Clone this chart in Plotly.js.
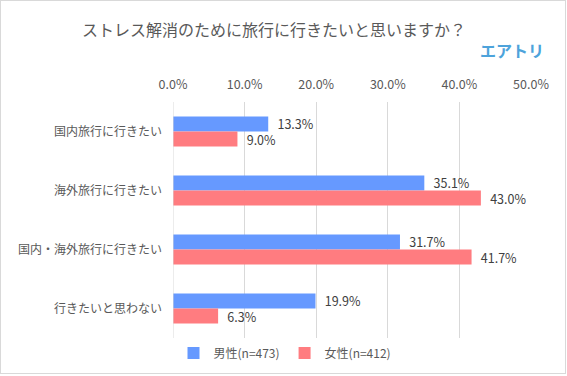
<!DOCTYPE html>
<html>
<head>
<meta charset="utf-8">
<script src="https://cdn.plot.ly/plotly-3.0.1.min.js"></script>
<style>
html,body{margin:0;padding:0;background:#fff;}
#wrap{position:relative;width:567px;height:376px;}
#chart{position:absolute;left:0;top:0;width:567px;height:376px;}
#frame{position:absolute;left:0;top:0;width:566px;height:374px;box-sizing:border-box;border:1px solid #d9d9d9;pointer-events:none;}
</style>
</head>
<body>
<div id="wrap"><div id="chart"></div><div id="frame"></div></div>
<script>
const categories = ["国内旅行に行きたい", "海外旅行に行きたい", "国内・海外旅行に行きたい", "行きたいと思わない"];
const maleValues = [13.3, 35.1, 31.7, 19.9];
const femaleValues = [9.0, 43.0, 41.7, 6.3];
const seriesNames = ["男性(n=473)", "女性(n=412)"];
const titleText = "ストレス解消のために旅行に行きたいと思いますか？";
const logoText = "エアトリ";

const FONT = '"Noto Sans CJK JP", "Noto Sans", sans-serif';
const GREY = '#595959';

const traces = [
  {
    type: 'bar', orientation: 'h', name: seriesNames[0],
    y: categories, x: maleValues,
    marker: {color: '#6699FF'},
    text: maleValues.map(v => '\u2002' + v.toFixed(1) + '%'),
    textposition: 'outside', cliponaxis: false, constraintext: 'none',
    textfont: {family: FONT, size: 12.5, color: '#404040'},
    hoverinfo: 'none'
  },
  {
    type: 'bar', orientation: 'h', name: seriesNames[1],
    y: categories, x: femaleValues,
    marker: {color: '#FF7C80'},
    text: femaleValues.map(v => '\u2002' + v.toFixed(1) + '%'),
    textposition: 'outside', cliponaxis: false, constraintext: 'none',
    textfont: {family: FONT, size: 12.5, color: '#404040'},
    hoverinfo: 'none'
  }
];

const layout = {
  width: 567, height: 376,
  margin: {l: 172.5, r: 35.5, t: 102, b: 38, pad: 0},
  paper_bgcolor: '#fff', plot_bgcolor: '#fff',
  font: {family: FONT, color: GREY, size: 12},
  title: {
    text: titleText,
    font: {family: FONT, size: 16, color: GREY},
    xref: 'container', x: 274 / 567, xanchor: 'center',
    yref: 'container', y: 1 - 30 / 376, yanchor: 'middle'
  },
  barmode: 'group', bargap: 0.49, bargroupgap: 0,
  showlegend: true,
  legend: {
    orientation: 'h', x: 285 / 567 , xanchor: 'center', xref: 'container',
    y: 1 - 353 / 376, yanchor: 'middle', yref: 'container',
    font: {family: FONT, size: 12, color: GREY},
    itemwidth: 30, traceorder: 'normal', tracegroupgap: 0
  },
  xaxis: {
    side: 'top', range: [0, 50], dtick: 10, tick0: 0,
    tickformat: '.1f', ticksuffix: '%',
    showgrid: true, gridcolor: '#d9d9d9', gridwidth: 1,
    zeroline: false, showline: false, ticks: '',
    ticklabelstandoff: 10,
    tickfont: {family: FONT, size: 12.5, color: GREY},
    fixedrange: true
  },
  yaxis: {
    type: 'category', autorange: 'reversed',
    showgrid: false, zeroline: false, showline: false, ticks: '',
    ticklabelstandoff: 10,
    tickfont: {family: FONT, size: 12, color: GREY},
    fixedrange: true
  },
  shapes: [{
    type: 'line', xref: 'x', yref: 'paper', x0: 0, x1: 0, y0: 0, y1: 1,
    line: {color: '#d9d9d9', width: 1}
  }],
  annotations: [{
    text: '<b>' + logoText + '</b>', showarrow: false,
    xref: 'paper', yref: 'paper',
    x: (512.5 - 172.5) / (567 - 172.5 - 35.5), xanchor: 'center',
    y: 1 + (102 - 50) / (376 - 102 - 38), yanchor: 'middle',
    font: {family: FONT, size: 16, color: '#4DA3DB'}
  }]
};

Plotly.newPlot('chart', traces, layout, {displayModeBar: false, staticPlot: true});
</script>
</body>
</html>
